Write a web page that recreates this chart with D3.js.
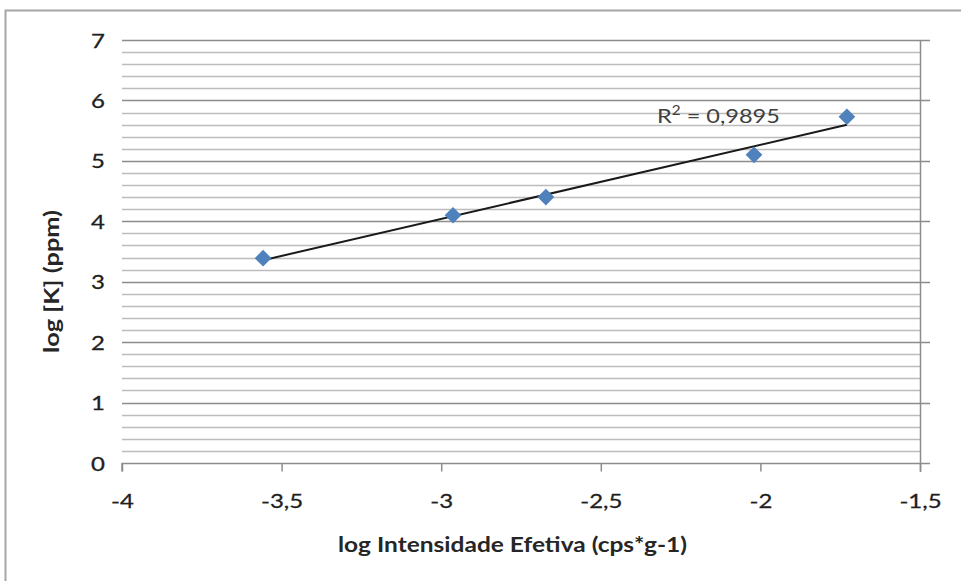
<!DOCTYPE html>
<html><head><meta charset="utf-8">
<script src="https://cdn.jsdelivr.net/npm/d3@7"></script>
<style>body{margin:0;background:#fff}svg{display:block}text{font-family:Lato,"Open Sans",sans-serif}</style>
</head><body>
<svg id="c" width="961" height="581"></svg>
<script>
const xValues = [-3.558, -2.963, -2.672, -2.020, -1.729];
const yValues = [3.39, 4.10, 4.40, 5.10, 5.73];
const xTicks = [-4, -3.5, -3, -2.5, -2, -1.5];
const yTicks = [0, 1, 2, 3, 4, 5, 6, 7];
const r2Label = "0,9895";
const xTitle = "log Intensidade Efetiva (cps*g-1)";
const yTitle = "log [K] (ppm)";

const svg = d3.select("#c");
svg.append("rect").attr("x",5.5).attr("y",10.5).attr("width",960).attr("height",580)
  .attr("fill","#fff").attr("stroke","#a6a6a6").attr("stroke-width",2);

const L=122, R=920, T=40, B=463;
const x = d3.scaleLinear().domain([-4,-1.5]).range([L,R]);
const y = d3.scaleLinear().domain([0,7]).range([B,T]);
const FS = 20, SX = 1.2;

// minor gridlines
const minor = d3.range(0,7.0001,0.2).filter(v=>Math.abs(v-Math.round(v))>1e-6);
svg.append("g").selectAll("line").data(minor).join("line")
  .attr("x1",L).attr("x2",R).attr("y1",d=>Math.round(y(d))+0.5).attr("y2",d=>Math.round(y(d))+0.5)
  .attr("stroke","#bcbcbc").attr("stroke-width",1.5);
// major gridlines
svg.append("g").selectAll("line").data(yTicks.filter(d=>d>0)).join("line")
  .attr("x1",L).attr("x2",R+10).attr("y1",d=>Math.round(y(d))+0.5).attr("y2",d=>Math.round(y(d))+0.5)
  .attr("stroke","#8c8c8c").attr("stroke-width",1.5);

// right vertical axis line
svg.append("line").attr("x1",R+0.5).attr("x2",R+0.5).attr("y1",T).attr("y2",B+9)
  .attr("stroke","#8c8c8c").attr("stroke-width",1.5);

// x axis
const xAxis = d3.axisBottom(x).tickValues(xTicks).tickSize(8).tickPadding(14)
  .tickFormat(d=>String(d).replace(".",","));
const gx = svg.append("g").attr("transform",`translate(0,${B+0.5})`).call(xAxis);
gx.select(".domain").attr("d",`M${L},8V0H${R+10}`).attr("stroke","#8c8c8c").attr("stroke-width",1.5);
gx.selectAll(".tick line").attr("stroke","#8c8c8c").attr("stroke-width",1.5);
gx.selectAll("text").attr("font-size",FS).attr("fill","#1f1f1f").attr("font-family","Lato,'Open Sans',sans-serif")
  .attr("y",null).attr("dy",null).attr("dominant-baseline",null)
  .attr("stroke","#1f1f1f").attr("stroke-width",0.3)
  .attr("transform",`translate(0,44) scale(${SX},1)`);

// y axis labels
const yAxis = d3.axisLeft(y).tickValues(yTicks).tickSize(0).tickPadding(0).tickFormat(d3.format("d"));
const gy = svg.append("g").attr("transform",`translate(${L},0)`).call(yAxis);
gy.select(".domain").remove();
gy.selectAll("text").attr("font-size",FS).attr("fill","#1f1f1f").attr("font-family","Lato,'Open Sans',sans-serif")
  .attr("stroke","#1f1f1f").attr("stroke-width",0.3)
  .attr("x",null).attr("dy",null).attr("transform",`translate(-17,7) scale(${SX},1)`);

// trendline (least squares)
const n=xValues.length, mx=d3.mean(xValues), my=d3.mean(yValues);
let sxy=0,sxx=0; for(let i=0;i<n;i++){sxy+=(xValues[i]-mx)*(yValues[i]-my);sxx+=(xValues[i]-mx)**2;}
const slope=sxy/sxx, icp=my-slope*mx;
const x0=d3.min(xValues), x1=d3.max(xValues);
svg.append("line").attr("x1",x(x0)).attr("y1",y(icp+slope*x0)).attr("x2",x(x1)).attr("y2",y(icp+slope*x1))
  .attr("stroke","#1a1a1a").attr("stroke-width",2);

// points
svg.append("g").selectAll("path").data(xValues.map((v,i)=>[v,yValues[i]])).join("path")
  .attr("d",d3.symbol(d3.symbolSquare,140))
  .attr("transform",d=>`translate(${x(d[0])},${y(d[1])}) rotate(45)`)
  .attr("fill","#4f81bd");

// R2 label
const rg = svg.append("g");
const t = rg.append("text").attr("x",0).attr("y",0).attr("font-size",FS).attr("fill","#404040");
t.append("tspan").text("R");
t.append("tspan").attr("font-size",13).attr("dy",-8).text("2");
t.append("tspan").attr("dy",8).text(" = "+r2Label);
const rw = t.node().getBBox().width;
rg.attr("transform",`translate(657,123) scale(${123/rw},1)`);

// titles
svg.append("text").attr("x",338).attr("y",552).attr("font-size",FS)
  .attr("font-weight","bold").attr("fill","#262626")
  .attr("textLength",349).attr("lengthAdjust","spacingAndGlyphs").text(xTitle);
svg.append("text").attr("transform","translate(59,353) rotate(-90)")
  .attr("font-size",FS).attr("font-weight","bold").attr("fill","#262626")
  .attr("textLength",143).attr("lengthAdjust","spacingAndGlyphs").text(yTitle);
</script>
</body></html>
